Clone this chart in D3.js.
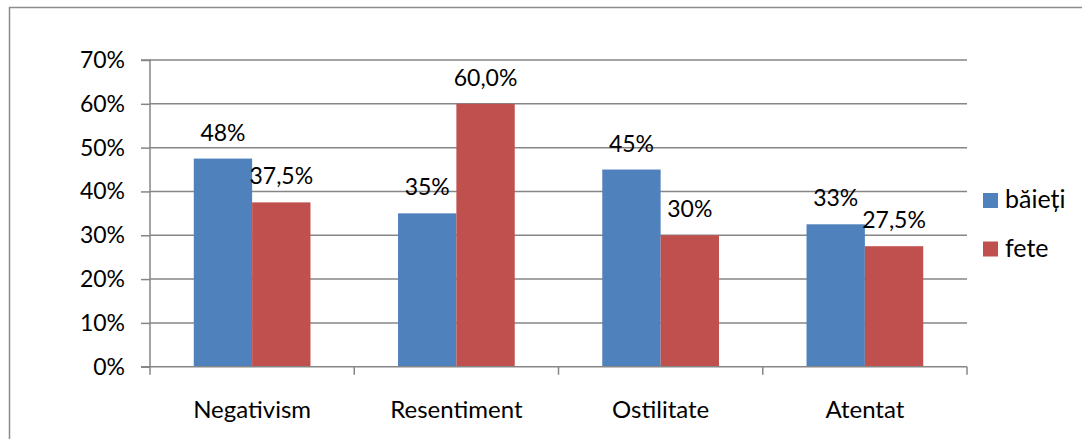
<!DOCTYPE html>
<html><head><meta charset="utf-8">
<script src="https://cdn.jsdelivr.net/npm/d3@7"></script>
<style>body{margin:0;background:#fff;}svg{display:block;font-family:Lato,"Open Sans",sans-serif;}</style>
</head><body>
<svg id="c" width="1082" height="439"></svg>
<script>
const categories = ["Negativism","Resentiment","Ostilitate","Atentat"];
const seriesNames = ["băieți","fete"];
const baieti = [0.475,0.35,0.45,0.325];
const fete = [0.375,0.60,0.30,0.275];
const baietiLabels = ["48%","35%","45%","33%"];
const feteLabels = ["37,5%","60,0%","30%","27,5%"];
const yTicks = [0,0.1,0.2,0.3,0.4,0.5,0.6,0.7];
const colors = ["#4F81BD","#C0504D"];

(function(){
const svg = d3.select("#c");
svg.append("rect").attr("x",9.5).attr("y",7.5).attr("width",1100).attr("height",500)
  .attr("fill","none").attr("stroke","#8c8c8c").attr("stroke-width",1.5);

const pL=150, pR=967, pT=60, pB=366.7;
const x0 = d3.scaleBand().domain(categories).range([pL,pR]).paddingInner(0).paddingOuter(0);
const y = d3.scaleLinear().domain([0,0.7]).range([pB,pT]);
const gap = 1.5;

svg.append("g").selectAll("line").data(yTicks.slice(1)).join("line")
  .attr("x1",pL).attr("x2",pR).attr("y1",d=>y(d)).attr("y2",d=>y(d))
  .attr("stroke","#868686").attr("stroke-width",1.5);

const data = [baieti,fete];
const labels = [baietiLabels,feteLabels];
const barW = x0.bandwidth()/(2+gap);
data.forEach((vals,si)=>{
  svg.append("g").selectAll("rect").data(vals).join("rect")
    .attr("x",(d,i)=>x0(categories[i])+barW*gap/2+si*barW)
    .attr("width",barW)
    .attr("y",d=>y(d)).attr("height",d=>pB-y(d))
    .attr("fill",colors[si]);
  svg.append("g").selectAll("text").data(vals).join("text")
    .attr("x",(d,i)=>x0(categories[i])+barW*gap/2+si*barW+barW/2)
    .attr("y",d=>y(d)-18)
    .attr("text-anchor","middle").attr("font-size",23).attr("fill","#000")
    .text((d,i)=>labels[si][i]);
});

const yAxis = d3.axisLeft(y).tickValues(yTicks).tickFormat(d=>Math.round(d*100)+"%").tickSize(9).tickPadding(16);
const gy = svg.append("g").attr("transform",`translate(${pL},0)`).call(yAxis);
gy.select(".domain").attr("stroke","#868686").attr("stroke-width",1.5).attr("d",`M-9,${pT}H0V${pB}H-9`);
gy.selectAll(".tick line").attr("stroke","#868686").attr("stroke-width",1.5);
gy.selectAll(".tick text").attr("font-size",23).attr("fill","#000").attr("font-family","Lato");

const gx = svg.append("g").attr("transform",`translate(0,${pB})`);
gx.append("line").attr("x1",pL).attr("x2",pR).attr("stroke","#868686").attr("stroke-width",1.5);
const bounds = categories.map(c=>x0(c)).concat([pR]);
gx.selectAll("line.t").data(bounds).join("line").attr("class","t")
  .attr("x1",d=>d).attr("x2",d=>d).attr("y1",0).attr("y2",8).attr("stroke","#868686").attr("stroke-width",1.5);
gx.selectAll("text").data(categories).join("text")
  .attr("x",d=>x0(d)+x0.bandwidth()/2).attr("y",51)
  .attr("text-anchor","middle").attr("font-size",24).attr("fill","#000").text(d=>d);

const lg = svg.append("g");
seriesNames.forEach((n,i)=>{
  lg.append("rect").attr("x",983).attr("y",193+i*48.5).attr("width",15).attr("height",15).attr("fill",colors[i]);
  lg.append("text").attr("x",1005).attr("y",208+i*48.5).attr("font-size",25).attr("fill","#000").text(n);
});
})();
</script>
</body></html>
